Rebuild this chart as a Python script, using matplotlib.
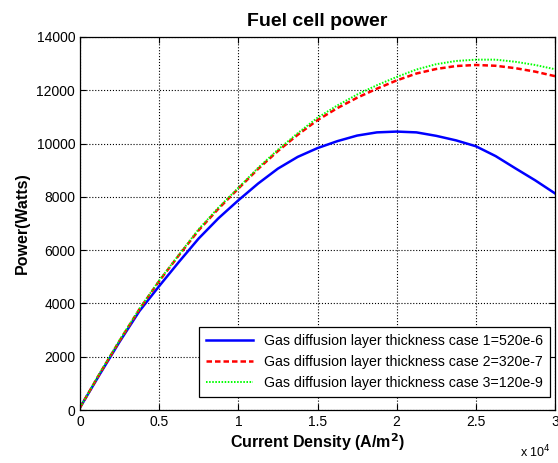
import numpy as np
import matplotlib
matplotlib.use("Agg")
import matplotlib.pyplot as plt

plt.rcParams['font.family'] = ['Liberation Sans', 'DejaVu Sans']

# Current density samples (A/m^2)
current_density = [0, 1250, 2500, 3750, 5000, 6250, 7500, 8750, 10000,
                   11250, 12500, 13750, 15000, 16250, 17500, 18750, 20000,
                   21250, 22500, 23750, 25000, 26250, 27500, 28750, 30000]

# Power (W) for each gas diffusion layer thickness case
power_case1 = [90, 1340, 2560, 3710, 4650, 5560, 6440, 7200, 7870,
               8500, 9060, 9500, 9830, 10090, 10300, 10420, 10450,
               10420, 10290, 10120, 9900, 9530, 9070, 8620, 8130]
power_case2 = [90, 1370, 2600, 3780, 4840, 5810, 6750, 7560, 8310,
               9050, 9720, 10330, 10880, 11330, 11720, 12060, 12370,
               12630, 12800, 12910, 12950, 12920, 12830, 12700, 12530]
power_case3 = [90, 1390, 2620, 3800, 4860, 5830, 6790, 7600, 8340,
               9090, 9770, 10390, 10970, 11430, 11840, 12190, 12500,
               12780, 12980, 13100, 13150, 13150, 13070, 12950, 12790]

labels = ['Gas diffusion layer thickness case 1=520e-6',
          'Gas diffusion layer thickness case 2=320e-7',
          'Gas diffusion layer thickness case 3=120e-9']

x = np.array(current_density) / 1e4

fig = plt.figure(figsize=(5.58, 4.63), dpi=100)
ax = fig.add_axes([80 / 558, 53 / 463, 475 / 558, 373 / 463])

ax.plot(x, power_case1, color='#0000ff', linestyle='-', linewidth=1.8, label=labels[0])
ax.plot(x, power_case2, color='#ff0000', linestyle=(0, (2.2, 1.2)), linewidth=1.8, label=labels[1])
ax.plot(x, power_case3, color='#00ff00', linestyle=(0, (0.8, 0.8)), linewidth=1.4, label=labels[2])

ax.set_xlim(0, 3)
ax.set_ylim(0, 14000)
ax.set_xticks([0, 0.5, 1, 1.5, 2, 2.5, 3])
ax.set_xticklabels(['0', '0.5', '1', '1.5', '2', '2.5', '3'])
ax.set_yticks(np.arange(0, 14001, 2000))
ax.tick_params(direction='in', top=True, right=True, labelsize=10, length=4, width=0.8)
ax.grid(True, color='black', linestyle=':', linewidth=0.8)
for s in ax.spines.values():
    s.set_linewidth(0.9)

ax.set_title('Fuel cell power', fontsize=14, fontweight='bold', pad=8)
ax.set_xlabel('Current Density (A/m$^\\mathbf{2}$)', fontsize=11.5, fontweight='bold', labelpad=2)
ax.set_ylabel('Power(Watts)', fontsize=11.5, fontweight='bold', labelpad=5)
fig.text(520 / 558, 1 - 452 / 463, 'x 10$^{4}$', fontsize=9, ha='left', va='center')

leg = ax.legend(loc='lower right', bbox_to_anchor=(0.9895, 0.035), fontsize=10.2,
                frameon=True, fancybox=False, edgecolor='black', framealpha=1,
                borderaxespad=0, handlelength=3.3, labelspacing=0.48, borderpad=0.5)
leg.get_frame().set_linewidth(0.9)

fig.savefig('out.png', dpi=100)
